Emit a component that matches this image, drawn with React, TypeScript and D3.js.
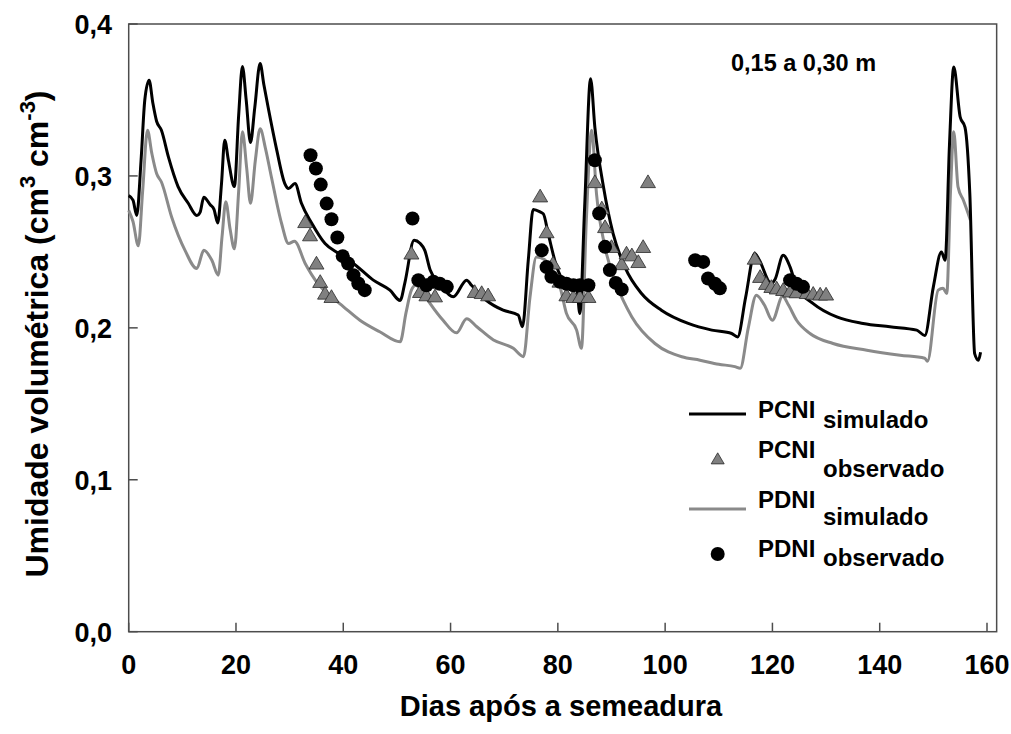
import React from "react";
import * as d3 from "d3";

// PCNI simulado (black line): [dia, umidade]
const pcniSimulado: [number, number][] = [
  [0, 0.287], [0.8, 0.284], [1.5, 0.274], [2.3, 0.31], [3.0, 0.35], [3.8, 0.363], [4.5, 0.348],
  [5.2, 0.336], [6.1, 0.33], [7.4, 0.3125], [9.2, 0.293], [11.1, 0.282], [12.7, 0.274], [13.3, 0.276],
  [14.0, 0.286], [15.2, 0.281], [15.9, 0.278], [16.6, 0.269], [17.3, 0.295], [17.9, 0.3235], [18.6, 0.31],
  [19.7, 0.293], [20.5, 0.34], [21.2, 0.372], [21.9, 0.35], [22.7, 0.322], [23.5, 0.345], [24.5, 0.374],
  [25.2, 0.36], [26.0, 0.345], [27.6, 0.317], [29.1, 0.295], [29.8, 0.2917], [31.0, 0.295], [32.2, 0.282],
  [34.1, 0.269], [36.6, 0.2555], [39.1, 0.249], [41.9, 0.2424], [45.6, 0.2314], [48.7, 0.2248], [50.6, 0.218],
  [51.5, 0.23], [53.2, 0.2577], [54.3, 0.2557], [55.2, 0.251], [56.2, 0.238], [58.0, 0.229], [60.5, 0.2204],
  [63.0, 0.2314], [63.9, 0.228], [66.7, 0.218], [69.8, 0.2116], [72.6, 0.2084], [73.4, 0.2007], [74.5, 0.245],
  [75.4, 0.2779], [76.7, 0.2763], [77.3, 0.275], [78.2, 0.262], [79.8, 0.24], [81.0, 0.2314], [83.5, 0.227],
  [84.1, 0.2095], [85.0, 0.28], [86.1, 0.364], [86.9, 0.332], [88.5, 0.2928], [90.3, 0.262], [92.5, 0.24],
  [95.6, 0.2226], [99.3, 0.2116], [104.3, 0.2029], [108.7, 0.1985], [112.4, 0.1963], [113.5, 0.194],
  [115.0, 0.22], [116.7, 0.249], [117.5, 0.245], [119.8, 0.229], [120.5, 0.232], [122.0, 0.2478],
  [123.3, 0.24], [124.5, 0.227], [127.6, 0.216], [132.0, 0.2072], [136.9, 0.2029], [141.9, 0.2007],
  [146.9, 0.1985], [148.4, 0.195], [150.0, 0.227], [151.5, 0.25], [152.2, 0.2445], [153.0, 0.32],
  [153.8, 0.3717], [155.0, 0.3388], [155.9, 0.332], [156.8, 0.288], [157.7, 0.183], [158.4, 0.1787],
  [158.8, 0.184],
];

// PDNI simulado (gray line)
const pdniSimulado: [number, number][] = [
  [0, 0.2774], [0.8, 0.27], [1.8, 0.254], [2.6, 0.29], [3.5, 0.33], [4.3, 0.315], [5.2, 0.3016],
  [6.1, 0.296], [8.0, 0.273], [10.5, 0.251], [12.7, 0.239], [14.0, 0.251], [15.5, 0.2445], [16.7, 0.2347],
  [17.4, 0.26], [18.1, 0.283], [18.9, 0.265], [19.7, 0.252], [20.5, 0.29], [21.2, 0.329], [22.0, 0.305],
  [22.7, 0.282], [23.6, 0.31], [24.5, 0.331], [25.5, 0.318], [26.6, 0.2993], [28.5, 0.2687], [29.8, 0.2555],
  [30.9, 0.257], [32.9, 0.2424], [35.3, 0.229], [37.8, 0.2204], [40.0, 0.214], [43.1, 0.205], [46.8, 0.1974],
  [50.6, 0.1908], [51.7, 0.21], [52.7, 0.2248], [53.5, 0.228], [54.5, 0.225], [56.2, 0.216], [58.6, 0.205],
  [61.1, 0.1967], [63.0, 0.206], [64.9, 0.2007], [68.0, 0.192], [71.7, 0.1865], [73.6, 0.181], [74.8, 0.22],
  [76.0, 0.2467], [77.5, 0.245], [78.5, 0.24], [80.4, 0.227], [81.6, 0.2095], [83.5, 0.1985], [84.4, 0.1865],
  [85.3, 0.27], [86.3, 0.33], [87.2, 0.2884], [88.8, 0.253], [91.0, 0.228], [93.8, 0.2072], [98.1, 0.1897],
  [103.1, 0.181], [106.5, 0.1787], [110.0, 0.176], [113.0, 0.1745], [114.0, 0.1734], [115.5, 0.2],
  [117.0, 0.2215], [118.5, 0.215], [120.0, 0.205], [121.9, 0.2208], [123.0, 0.215], [124.5, 0.205],
  [127.0, 0.1963], [131.3, 0.1897], [137.6, 0.1853], [143.8, 0.182], [148.4, 0.18], [148.9, 0.178],
  [150.9, 0.2248], [151.8, 0.226], [152.5, 0.2226], [153.2, 0.29], [153.8, 0.329], [154.6, 0.2928],
  [155.6, 0.284], [156.9, 0.271],
];

// PCNI observado (triangles)
const pcniObservado: [number, number][] = [
  [32.9, 0.2697], [33.8, 0.261], [35.0, 0.2424], [35.7, 0.2303], [36.6, 0.2226], [37.8, 0.2204],
  [52.7, 0.249], [54.3, 0.2237], [55.5, 0.2215], [57.1, 0.2208],
  [64.5, 0.2237], [65.8, 0.223], [67.0, 0.2215],
  [76.7, 0.2866], [77.9, 0.263], [79.1, 0.2424], [80.3, 0.2305], [81.6, 0.2215], [82.9, 0.2204],
  [84.1, 0.2204], [85.7, 0.2204],
  [86.9, 0.296], [88.2, 0.2787], [88.8, 0.2664], [90.0, 0.2533], [91.9, 0.242], [92.8, 0.249],
  [93.8, 0.2478], [95.0, 0.2434], [95.9, 0.2533], [96.8, 0.296],
  [116.7, 0.2456], [117.7, 0.2336], [118.8, 0.229], [119.8, 0.227], [120.8, 0.226], [122.0, 0.225],
  [123.3, 0.224], [124.5, 0.2235], [126.4, 0.223], [127.6, 0.2225], [128.9, 0.222], [130.0, 0.222],
];

// PDNI observado (circles)
const pdniObservado: [number, number][] = [
  [33.9, 0.3136], [34.9, 0.3049], [35.8, 0.2943], [36.9, 0.2818], [37.8, 0.2715], [38.9, 0.2595],
  [39.9, 0.2472], [40.9, 0.2424], [41.9, 0.2347], [42.8, 0.2292], [44.0, 0.2248],
  [52.9, 0.272], [54.0, 0.2314], [55.5, 0.228], [56.8, 0.2303], [58.0, 0.229], [59.3, 0.227],
  [77.0, 0.251], [77.9, 0.24], [78.8, 0.2336], [80.4, 0.2303], [81.6, 0.229], [82.9, 0.228],
  [84.1, 0.228], [85.7, 0.228],
  [86.9, 0.3103], [87.7, 0.2753], [88.8, 0.2533], [89.7, 0.238], [90.8, 0.2296], [91.9, 0.2253],
  [105.6, 0.2445], [107.1, 0.2434], [108.0, 0.2325], [109.3, 0.229], [110.2, 0.226],
  [123.3, 0.2314], [124.5, 0.229], [125.7, 0.227],
];

const xTicks = [0, 20, 40, 60, 80, 100, 120, 140, 160];
const yTicks = [0, 0.1, 0.2, 0.3, 0.4];
const yTickLabels = ["0,0", "0,1", "0,2", "0,3", "0,4"];

const FONT = "'Liberation Sans', Arial, Helvetica, sans-serif";
const AXIS = "#4d4d4d";
const GRAY = "#8a8a8a";

export default function App() {
  const x = d3.scaleLinear().domain([0, 160]).range([128.7, 987]);
  const y = d3.scaleLinear().domain([0, 0.4]).range([631.7, 24]);
  const line = d3
    .line<[number, number]>()
    .x((d) => x(d[0]))
    .y((d) => y(d[1]))
    .curve(d3.curveMonotoneX);

  const left = x(0);
  const right = x(161.8);
  const top = y(0.4);
  const bottom = y(0);

  const tri = (cx: number, cy: number, s = 7.5) =>
    `M${cx},${cy - s * 0.95}L${cx + s},${cy + s * 0.75}L${cx - s},${cy + s * 0.75}Z`;

  const legendText = (main: string, sub: string, yMain: number, ySub: number) => (
    <g fontFamily={FONT} fontWeight="bold" fontSize={24} fill="#000">
      <text x={758} y={yMain}>{main}</text>
      <text x={823} y={ySub}>{sub}</text>
    </g>
  );

  return (
    <svg
      width={1011}
      height={734}
      style={{ position: "absolute", left: 0, top: 0, background: "#fff" }}
    >
      <rect x={0} y={0} width={1011} height={734} fill="#fff" />
      {/* frame */}
      <rect
        x={left}
        y={top}
        width={right - left}
        height={bottom - top}
        fill="none"
        stroke={AXIS}
        strokeWidth={1.5}
      />
      {/* y ticks */}
      {yTicks.map((t, i) => (
        <g key={"y" + i}>
          <line x1={left} x2={left + 9} y1={y(t)} y2={y(t)} stroke={AXIS} strokeWidth={1.5} />
          <text
            x={112}
            y={y(t) + 10}
            textAnchor="end"
            fontFamily={FONT}
            fontWeight="bold"
            fontSize={27}
          >
            {yTickLabels[i]}
          </text>
        </g>
      ))}
      {/* x ticks */}
      {xTicks.map((t) => (
        <g key={"x" + t}>
          <line x1={x(t)} x2={x(t)} y1={bottom} y2={bottom - 9} stroke={AXIS} strokeWidth={1.5} />
          <text
            x={x(t)}
            y={674}
            textAnchor="middle"
            fontFamily={FONT}
            fontWeight="bold"
            fontSize={27}
          >
            {t}
          </text>
        </g>
      ))}
      {/* axis titles */}
      <text
        x={561}
        y={716}
        textAnchor="middle"
        fontFamily={FONT}
        fontWeight="bold"
        fontSize={29}
      >
        Dias após a semeadura
      </text>
      <text
        transform="translate(48,334) rotate(-90)"
        textAnchor="middle"
        fontFamily={FONT}
        fontWeight="bold"
        fontSize={32}
      >
        Umidade volumétrica (cm
        <tspan fontSize={22} dy={-13}>3</tspan>
        <tspan dy={13}> cm</tspan>
        <tspan fontSize={22} dy={-13}>-3</tspan>
        <tspan dy={13}>)</tspan>
      </text>
      {/* annotation */}
      <text x={731} y={70.5} fontFamily={FONT} fontWeight="bold" fontSize={23.5}>
        0,15 a 0,30 m
      </text>

      {/* simulated lines */}
      <path d={line(pdniSimulado) || ""} fill="none" stroke={GRAY} strokeWidth={3} strokeLinejoin="round" />
      <path d={line(pcniSimulado) || ""} fill="none" stroke="#000" strokeWidth={3} strokeLinejoin="round" />

      {/* observed */}
      {pcniObservado.map((d, i) => (
        <path key={"t" + i} d={tri(x(d[0]), y(d[1]))} fill="#808080" stroke="#2a2a2a" strokeWidth={0.8} />
      ))}
      {pdniObservado.map((d, i) => (
        <circle key={"c" + i} cx={x(d[0])} cy={y(d[1])} r={7} fill="#000" />
      ))}

      {/* legend */}
      <line x1={689} x2={746} y1={414} y2={414} stroke="#000" strokeWidth={3} />
      {legendText("PCNI", "simulado", 418, 428)}
      <path d={tri(717.7, 459, 6.5)} fill="#808080" stroke="#2a2a2a" strokeWidth={0.8} />
      {legendText("PCNI", "observado", 458, 477)}
      <line x1={689} x2={746} y1={509} y2={509} stroke={GRAY} strokeWidth={3} />
      {legendText("PDNI", "simulado", 508, 525)}
      <circle cx={717.7} cy={554} r={7} fill="#000" />
      {legendText("PDNI", "observado", 557, 566)}
    </svg>
  );
}
